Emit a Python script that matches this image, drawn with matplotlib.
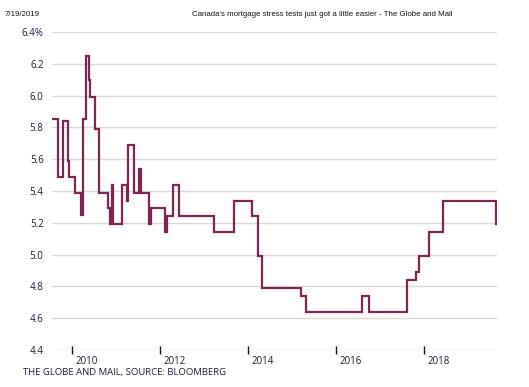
import pandas as pd
import matplotlib.pyplot as plt
import matplotlib.transforms as mtransforms

# 5-year posted mortgage rate, date each value took effect
change_dates = [
    "2009-07-18", "2009-09-07", "2009-10-15", "2009-11-24", "2009-12-10",
    "2010-01-29", "2010-03-16", "2010-04-01", "2010-04-26", "2010-05-17",
    "2010-05-29", "2010-07-06", "2010-08-16", "2010-10-22", "2010-11-15",
    "2010-11-28", "2010-12-06", "2011-02-15", "2011-03-30", "2011-04-11",
    "2011-06-02", "2011-07-14", "2011-07-26", "2011-09-27", "2011-10-17",
    "2012-02-11", "2012-02-27", "2012-04-17", "2012-06-10", "2013-03-24",
    "2013-09-08", "2014-02-05", "2014-03-21", "2014-04-24", "2015-03-16",
    "2015-04-26", "2016-08-01", "2016-10-03", "2017-08-14", "2017-10-28",
    "2017-11-22", "2018-02-13", "2018-06-09", "2019-08-20", "2019-08-28",
]
rates = [
    5.85, 5.49, 5.84, 5.59, 5.49,
    5.39, 5.25, 5.85, 6.25, 6.10,
    5.99, 5.79, 5.39, 5.29, 5.19,
    5.44, 5.19, 5.44, 5.34, 5.69,
    5.39, 5.54, 5.39, 5.19, 5.29,
    5.14, 5.24, 5.44, 5.24, 5.14,
    5.34, 5.24, 4.99, 4.79, 4.74,
    4.64, 4.74, 4.64, 4.84, 4.89,
    4.99, 5.14, 5.34, 5.19, 5.19,
]
tick_years = ["2010", "2012", "2014", "2016", "2018"]
y_ticks = [4.4, 4.6, 4.8, 5.0, 5.2, 5.4, 5.6, 5.8, 6.0, 6.2, 6.4]

dates = pd.to_datetime(change_dates)

fig = plt.figure(figsize=(5.29, 3.87), dpi=100)
ax = fig.add_axes([52 / 529, 1 - 350 / 387, 445 / 529, 318 / 387])

ax.plot(dates, rates, drawstyle="steps-post", color="#7e2553", lw=1.6,
        solid_joinstyle="miter", zorder=3)

ax.set_xlim(dates[0], dates[-1])
ax.set_ylim(4.4, 6.4)

ax.set_yticks(y_ticks)
ylabels = [f"{v:.1f}" for v in y_ticks]
ylabels[-1] = "6.4%"
ax.set_yticklabels(ylabels)
ax.tick_params(axis="y", length=0, pad=6, labelsize=7, labelcolor="#1c1c3a")
ax.grid(axis="y", color="#d9d9d9", lw=1)
ax.set_axisbelow(True)

ax.set_xticks(pd.to_datetime([y + "-01-01" for y in tick_years]))
ax.set_xticklabels(tick_years)
ax.tick_params(axis="x", direction="inout", length=6, width=1, color="#111111",
               pad=1, labelsize=7, labelcolor="#1c1c3a")
offset = mtransforms.ScaledTranslation(3 / 100, 0, fig.dpi_scale_trans)
for lab in ax.get_xticklabels():
    lab.set_horizontalalignment("left")
    lab.set_transform(lab.get_transform() + offset)

for s in ax.spines.values():
    s.set_visible(False)

for lab in ax.get_xticklabels() + ax.get_yticklabels():
    lab.set_family("Open Sans")

fig.text(5 / 529, 1 - 15 / 387, "7/19/2019", fontsize=5.7,
         family="Liberation Sans", va="center", ha="left", color="#111111")
fig.text(322 / 529, 1 - 15 / 387,
         "Canada's mortgage stress tests just got a little easier - The Globe and Mail",
         fontsize=5.7, family="Liberation Sans", va="center", ha="center",
         color="#111111")
fig.text(23 / 529, 1 - 373 / 387, "THE GLOBE AND MAIL, SOURCE: BLOOMBERG",
         fontsize=6.8, family="Open Sans", va="center", ha="left",
         color="#1c1c3a")

fig.savefig("out.png", dpi=100)
